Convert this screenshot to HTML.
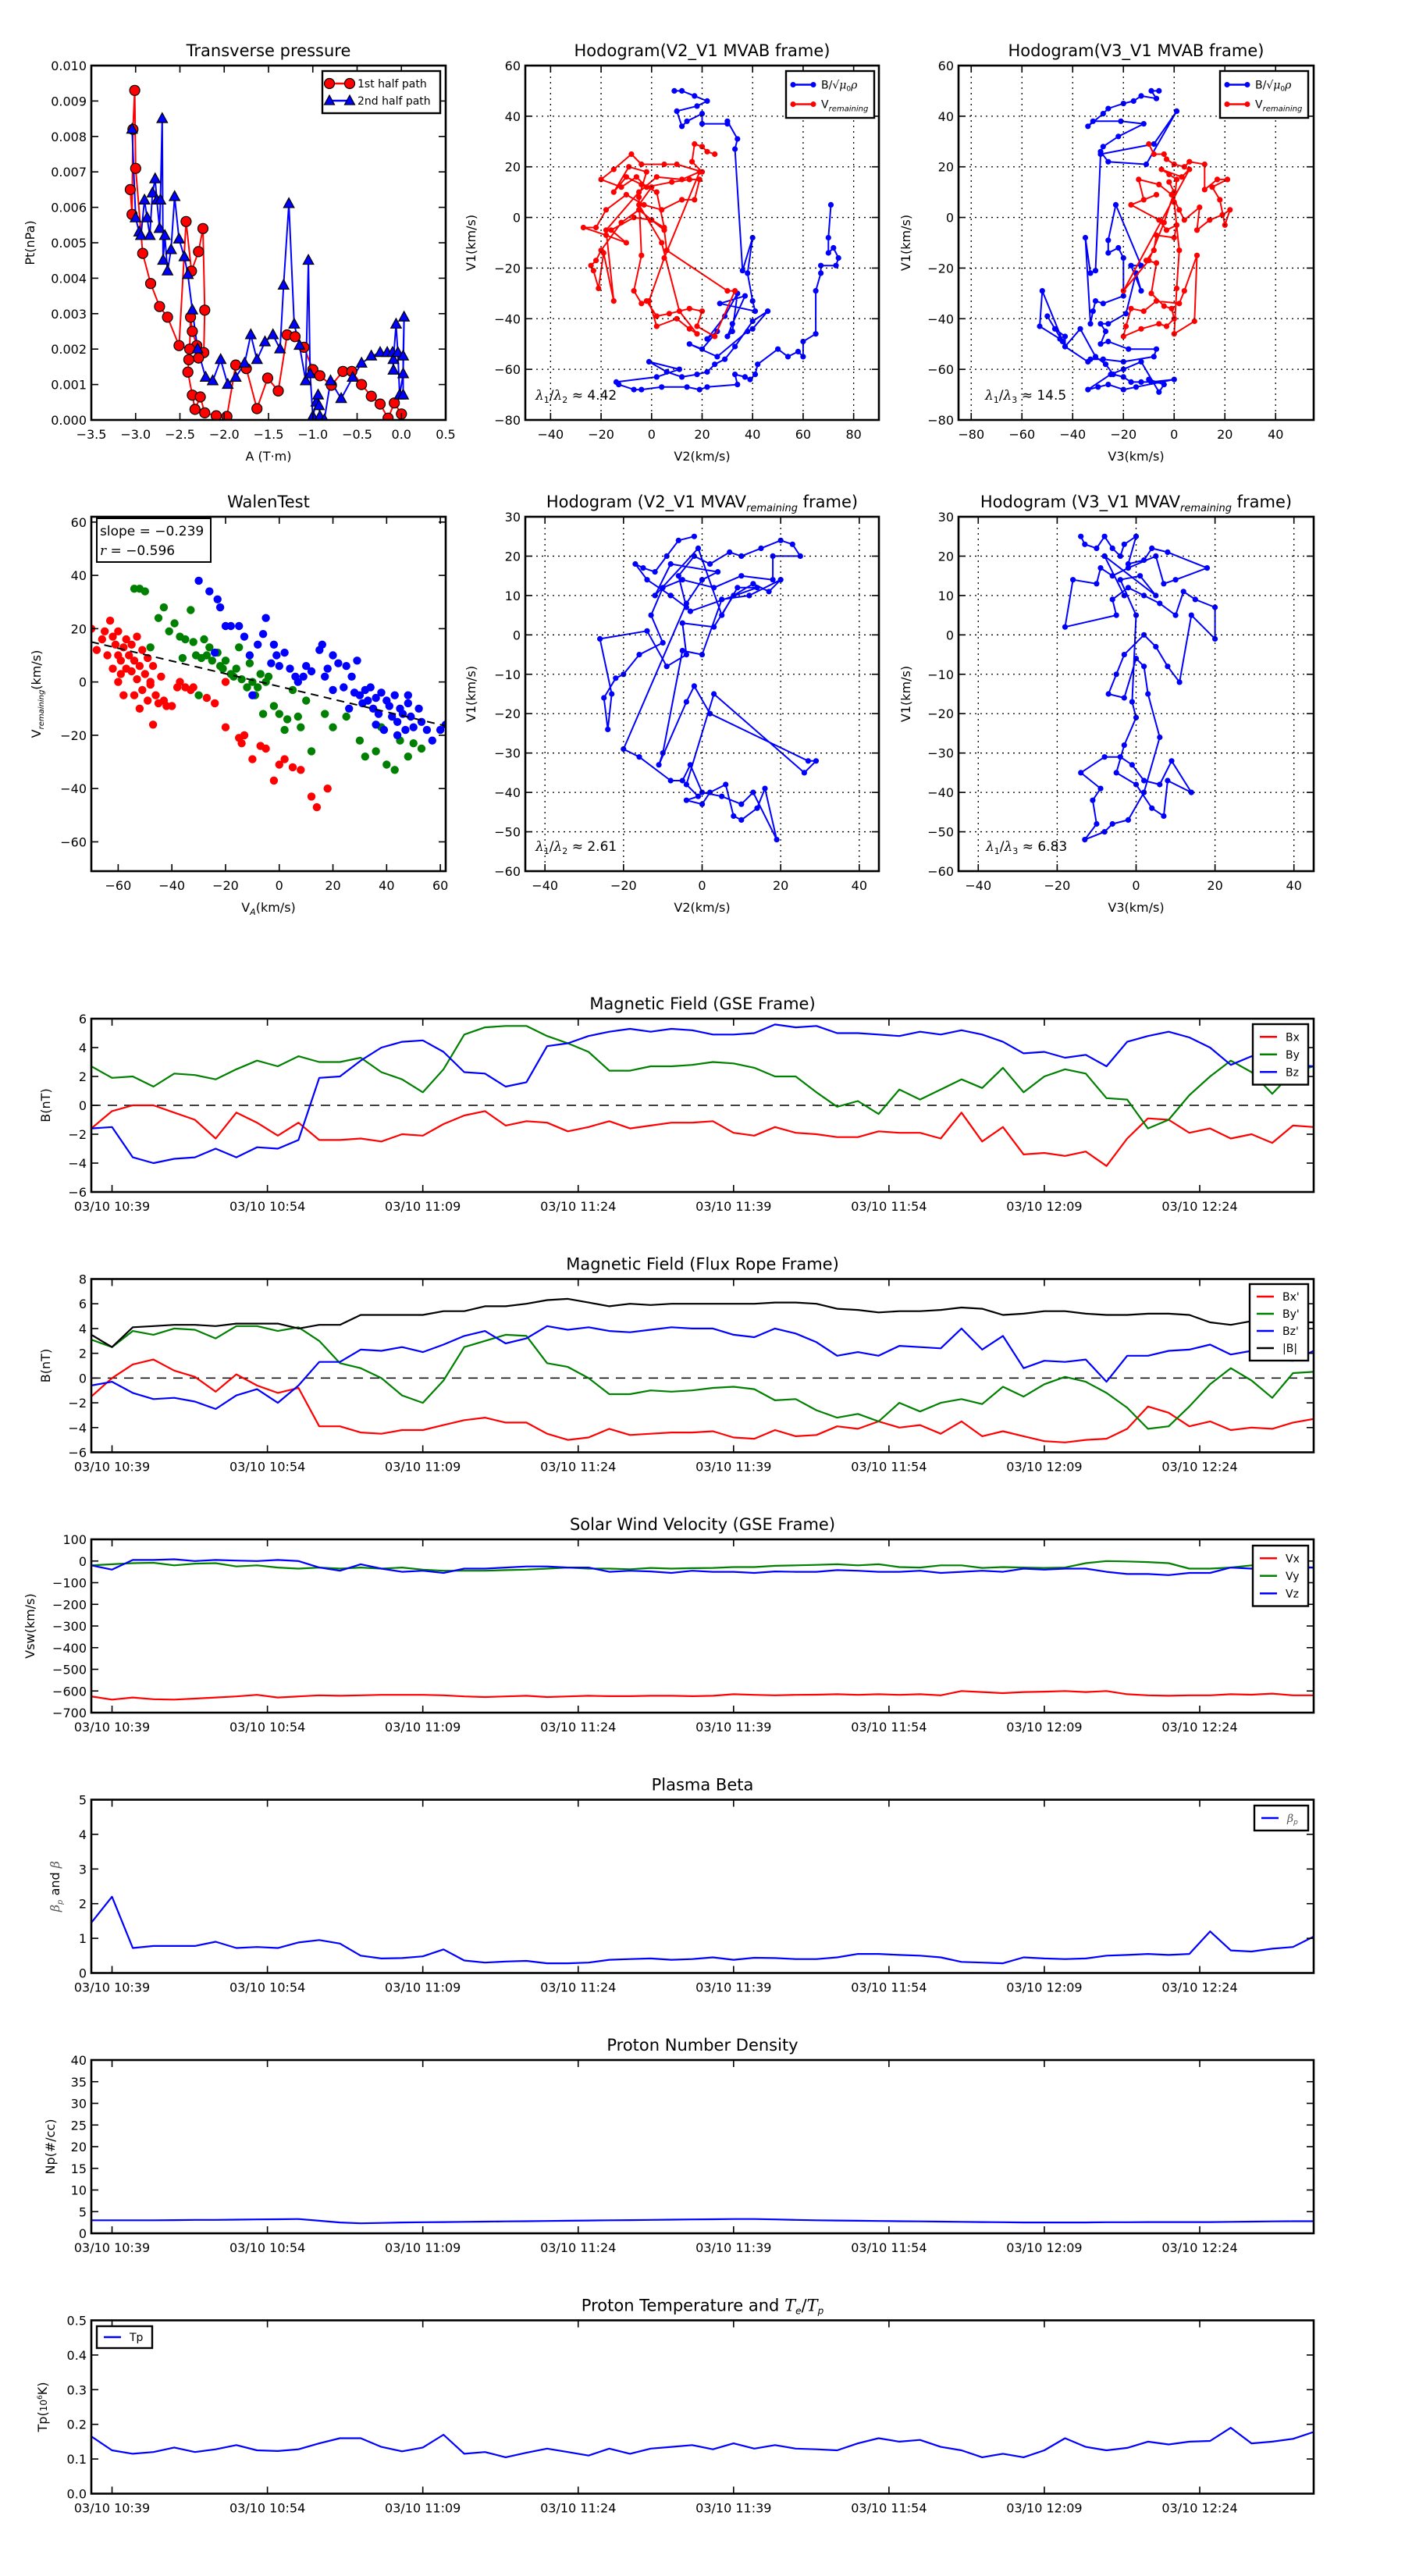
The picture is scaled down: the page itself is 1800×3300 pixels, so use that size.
<!DOCTYPE html>
<html><head><meta charset="utf-8"><title>Flux rope analysis</title>
<style>
html,body{margin:0;padding:0;background:#fff;}
svg{display:block;font-family:"DejaVu Sans","Liberation Sans",sans-serif;}
</style></head>
<body>
<svg id="fig" xmlns="http://www.w3.org/2000/svg" width="1800" height="3300" viewBox="0 0 1800 3300"></svg>
<script>
// ---------------- DATA ----------------
const minutes = [0,2,4,6,8,10,12,14,16,18,20,22,24,26,28,30,32,34,36,38,40,42,44,46,48,50,52,54,56,58,60,62,64,66,68,70,72,74,76,78,80,82,84,86,88,90,92,94,96,98,100,102,104,106,108,110,112,114,116,118];
const timeTickMinutes = [2,17,32,47,62,77,92,107];
const timeTickLabels = ["03/10 10:39","03/10 10:54","03/10 11:09","03/10 11:24","03/10 11:39","03/10 11:54","03/10 12:09","03/10 12:24"];

const bxGSE = [-1.6,-0.4,0.0,0.0,-0.5,-1.0,-2.3,-0.5,-1.2,-2.1,-1.2,-2.4,-2.4,-2.3,-2.5,-2.0,-2.1,-1.3,-0.7,-0.4,-1.4,-1.1,-1.2,-1.8,-1.5,-1.1,-1.6,-1.4,-1.2,-1.2,-1.1,-1.9,-2.1,-1.5,-1.9,-2.0,-2.2,-2.2,-1.8,-1.9,-1.9,-2.3,-0.5,-2.5,-1.5,-3.4,-3.3,-3.5,-3.2,-4.2,-2.3,-0.9,-1.0,-1.9,-1.6,-2.3,-2.0,-2.6,-1.4,-1.5];
const byGSE = [2.7,1.9,2.0,1.3,2.2,2.1,1.8,2.5,3.1,2.7,3.4,3.0,3.0,3.3,2.3,1.8,0.9,2.5,4.9,5.4,5.5,5.5,4.8,4.3,3.7,2.4,2.4,2.7,2.7,2.8,3.0,2.9,2.6,2.0,2.0,0.9,-0.1,0.3,-0.6,1.1,0.4,1.1,1.8,1.2,2.6,0.9,2.0,2.5,2.2,0.5,0.4,-1.6,-1.0,0.7,2.0,3.1,2.3,0.8,2.3,2.7];
const bzGSE = [-1.6,-1.5,-3.6,-4.0,-3.7,-3.6,-3.0,-3.6,-2.9,-3.0,-2.4,1.9,2.0,3.1,4.0,4.4,4.5,3.7,2.3,2.2,1.3,1.6,4.1,4.3,4.8,5.1,5.3,5.1,5.3,5.2,4.9,4.9,5.0,5.6,5.4,5.5,5.0,5.0,4.9,4.8,5.1,4.9,5.2,4.9,4.4,3.6,3.7,3.3,3.5,2.7,4.4,4.8,5.1,4.7,4.0,2.8,3.4,3.0,2.8,2.7];

const bxFR = [-1.5,0.0,1.1,1.5,0.6,0.1,-1.1,0.3,-0.6,-1.2,-0.8,-3.9,-3.9,-4.4,-4.5,-4.2,-4.2,-3.8,-3.4,-3.2,-3.6,-3.6,-4.5,-5.0,-4.8,-4.1,-4.6,-4.5,-4.4,-4.4,-4.3,-4.8,-4.9,-4.2,-4.7,-4.6,-3.9,-4.1,-3.5,-4.0,-3.8,-4.5,-3.5,-4.7,-4.3,-4.7,-5.1,-5.2,-5.0,-4.9,-4.1,-2.3,-2.8,-3.9,-3.5,-4.2,-4.0,-4.1,-3.6,-3.3];
const byFR = [3.1,2.5,3.8,3.5,4.0,3.9,3.2,4.2,4.2,3.8,4.1,3.0,1.2,0.8,0.0,-1.4,-2.0,-0.2,2.5,3.0,3.5,3.4,1.2,0.9,0.0,-1.3,-1.3,-1.0,-1.1,-1.0,-0.8,-0.7,-0.9,-1.8,-1.7,-2.6,-3.2,-2.9,-3.5,-2.0,-2.7,-2.0,-1.7,-2.1,-0.7,-1.5,-0.5,0.1,-0.3,-1.2,-2.4,-4.1,-3.9,-2.3,-0.5,0.8,-0.2,-1.6,0.4,0.5];
const bzFR = [-0.6,-0.3,-1.2,-1.7,-1.6,-1.9,-2.5,-1.4,-0.9,-2.0,-0.6,1.3,1.3,2.3,2.2,2.5,2.1,2.7,3.4,3.8,2.8,3.2,4.2,3.9,4.1,3.8,3.7,3.9,4.1,4.0,4.0,3.5,3.3,4.0,3.6,2.9,1.8,2.1,1.8,2.6,2.5,2.4,4.0,2.3,3.4,0.8,1.4,1.3,1.5,-0.3,1.8,1.8,2.2,2.3,2.7,1.9,2.2,1.5,1.4,2.2];
const btFR = [3.5,2.5,4.1,4.2,4.3,4.3,4.2,4.4,4.4,4.4,4.0,4.3,4.3,5.1,5.1,5.1,5.1,5.4,5.4,5.8,5.8,6.0,6.3,6.4,6.1,5.8,6.0,5.9,6.0,6.0,6.0,6.0,6.0,6.1,6.1,6.0,5.6,5.5,5.3,5.4,5.4,5.5,5.7,5.6,5.1,5.2,5.4,5.4,5.2,5.1,5.1,5.2,5.2,5.1,4.5,4.3,4.6,4.5,4.5,4.5];

const vxGSE = [-625,-640,-630,-638,-640,-635,-630,-625,-618,-630,-625,-620,-622,-620,-618,-618,-618,-620,-625,-628,-625,-622,-628,-625,-622,-624,-624,-622,-622,-624,-622,-615,-618,-620,-618,-617,-615,-618,-615,-618,-615,-620,-600,-605,-610,-605,-603,-600,-605,-600,-615,-620,-622,-620,-620,-615,-617,-612,-620,-620];
const vyGSE = [-20,-15,-10,-8,-20,-12,-10,-25,-20,-30,-35,-30,-35,-30,-35,-30,-40,-45,-45,-45,-42,-40,-35,-30,-35,-35,-38,-32,-35,-33,-32,-28,-28,-22,-20,-18,-15,-20,-15,-28,-30,-20,-20,-32,-28,-30,-32,-30,-10,0,-2,-5,-10,-35,-35,-30,-20,-25,-25,-30];
const vzGSE = [-20,-40,5,5,8,0,5,2,0,5,0,-30,-45,-15,-35,-50,-45,-55,-35,-35,-30,-25,-25,-30,-30,-50,-45,-48,-55,-45,-50,-50,-55,-48,-50,-50,-42,-45,-50,-50,-45,-55,-50,-45,-50,-35,-40,-35,-35,-50,-60,-60,-65,-55,-55,-30,-35,-30,-30,-30];

const betaP = [1.45,2.2,0.72,0.78,0.78,0.78,0.9,0.72,0.75,0.72,0.88,0.95,0.85,0.5,0.42,0.43,0.48,0.68,0.36,0.3,0.33,0.35,0.28,0.28,0.3,0.38,0.4,0.42,0.38,0.4,0.45,0.38,0.44,0.43,0.4,0.4,0.45,0.55,0.55,0.52,0.5,0.45,0.32,0.3,0.28,0.45,0.42,0.4,0.42,0.5,0.52,0.55,0.52,0.55,1.2,0.65,0.62,0.7,0.75,1.05];
const densityNp = [3.0,3.0,3.0,3.0,3.05,3.1,3.1,3.15,3.2,3.25,3.3,2.9,2.5,2.3,2.4,2.5,2.55,2.6,2.65,2.7,2.75,2.8,2.85,2.9,2.95,3.0,3.05,3.1,3.15,3.2,3.25,3.3,3.3,3.2,3.1,3.0,2.95,2.9,2.85,2.8,2.75,2.7,2.65,2.6,2.55,2.5,2.5,2.5,2.5,2.55,2.55,2.6,2.6,2.6,2.6,2.65,2.7,2.75,2.8,2.8];
const tempTp = [0.165,0.125,0.115,0.12,0.133,0.12,0.128,0.14,0.125,0.123,0.128,0.145,0.16,0.16,0.135,0.122,0.133,0.17,0.115,0.12,0.105,0.118,0.13,0.12,0.11,0.13,0.115,0.13,0.135,0.14,0.128,0.145,0.13,0.14,0.13,0.128,0.125,0.145,0.16,0.15,0.155,0.135,0.125,0.105,0.115,0.105,0.125,0.16,0.135,0.125,0.132,0.15,0.142,0.15,0.152,0.19,0.145,0.15,0.158,0.178];

// Transverse pressure
const ptRedA = [-3.06,-3.04,-3.03,-3.01,-3.0,-2.92,-2.83,-2.73,-2.64,-2.51,-2.43,-2.37,-2.29,-2.24,-2.22,-2.23,-2.29,-2.31,-2.36,-2.38,-2.39,-2.4,-2.41,-2.36,-2.33,-2.27,-2.22,-2.09,-1.97,-1.87,-1.75,-1.63,-1.51,-1.39,-1.29,-1.2,-1.1,-1.0,-0.92,-0.79,-0.66,-0.56,-0.45,-0.34,-0.24,-0.15,-0.08,0.0];
const ptRedP = [0.0065,0.0058,0.0082,0.0093,0.0071,0.0047,0.00385,0.0032,0.0029,0.0021,0.0056,0.0042,0.00475,0.0054,0.0031,0.0019,0.00175,0.0021,0.0025,0.0029,0.0020,0.0017,0.00135,0.0007,0.0003,0.00065,0.0002,0.00012,0.0001,0.00155,0.00145,0.00032,0.00118,0.00082,0.0024,0.00235,0.00205,0.00142,0.00125,0.00098,0.00137,0.00137,0.001,0.00067,0.00045,0.00005,0.00048,0.00017];
const ptBlueA = [-3.04,-3.0,-2.96,-2.94,-2.9,-2.87,-2.84,-2.81,-2.78,-2.76,-2.73,-2.72,-2.7,-2.69,-2.67,-2.64,-2.6,-2.56,-2.51,-2.45,-2.41,-2.36,-2.3,-2.21,-2.13,-2.04,-1.96,-1.87,-1.77,-1.7,-1.63,-1.54,-1.45,-1.37,-1.33,-1.27,-1.21,-1.15,-1.08,-1.05,-1.03,-1.0,-0.96,-0.94,-0.93,-0.92,-0.87,-0.8,-0.68,-0.55,-0.45,-0.34,-0.24,-0.16,-0.1,-0.09,-0.09,-0.06,-0.04,-0.02,0.02,0.03,0.02,0.02];
const ptBlueP = [0.0082,0.0057,0.0053,0.0052,0.0062,0.0057,0.0052,0.0064,0.0068,0.0062,0.0054,0.0062,0.0085,0.0045,0.0052,0.0042,0.0048,0.0063,0.0051,0.0046,0.0041,0.0031,0.002,0.0012,0.0011,0.0017,0.0010,0.0012,0.0016,0.0024,0.0017,0.0022,0.0024,0.002,0.0038,0.0061,0.0027,0.0021,0.0011,0.0045,0.0013,0.0001,0.0005,0.0007,0.0004,0.0001,0.0000,0.0011,0.0006,0.0012,0.0016,0.0018,0.0019,0.0019,0.0019,0.0014,0.0017,0.0027,0.0019,0.0007,0.0013,0.0029,0.0018,0.0007];

// Hodogram V2-V1 MVAB
const h1BlueV2 = [9,12,17,22,18,10,12,14,20,20,30,30,34,33,36,40,38,40,41,27,37,32,30,32,34,29,22,26,20,15,26,38,40,46,40,33,29,25,22,18,12,6,-1,11,2,-14,-13,-7,-4,4,14,19,22,34,33,37,39,41,42,50,54,58,60,60,65,65,67,67,73,74,72,70,70,71];
const h1BlueV1 = [50,50,48,46,44,42,36,38,41,37,37,38,31,27,-21,-8,-22,-33,-37,-34,-31,-42,-47,-45,-30,-39,-48,-45,-52,-50,-55,-45,-44,-37,-41,-51,-56,-58,-61,-62,-63,-61,-57,-60,-63,-65,-66,-68,-68,-67,-67,-68,-67,-66,-62,-63,-64,-62,-58,-52,-55,-53,-55,-49,-46,-29,-22,-19,-19,-16,-12,-14,-8,5];
const h1RedV2 = [25,22,20,17,16,20,10,5,-4,-8,-15,-20,-12,-6,-2,8,15,19,17,12,4,-3,-10,-18,-22,-27,-18,-10,-16,-7,0,5,2,-4,-10,-15,-9,-2,-5,-4,-7,-4,-2,2,7,15,20,18,25,33,30,6,5,-5,-12,-20,-22,-24,-23,-21,-19,-15,-18,-5,2,12,19,5,-1,2,10,15,18,11,4,-5,0];
const h1RedV1 = [25,26,28,29,22,18,21,21,21,25,19,15,12,16,12,14,15,15,7,7,3,5,9,3,-4,-4,-7,-10,-5,0,-1,-4,10,13,16,10,20,18,8,-15,-29,-34,-33,-39,-38,-36,-37,-43,-47,-29,-29,-13,-5,3,-2,-13,-17,-19,-21,-28,-14,-33,-5,10,16,15,18,-16,-33,-43,-40,-44,-46,-37,-10,5,12];

// Hodogram V3-V1 MVAB
const h3BlueV3 = [-6,-9,-7,-13,-16,-20,-26,-28,-34,-32,-21,-12,-22,-28,-29,-26,-11,1,-8,-29,-31,-33,-35,-33,-32,-31,-28,-20,-20,-22,-26,-26,-23,-13,-17,-13,-15,-19,-26,-29,-27,-29,-26,-18,-7,-8,-20,-28,-33,-34,-43,-43,-47,-50,-44,-45,-53,-52,-43,-37,-31,-27,-24,-20,-17,-13,-9,0,-15,-20,-26,-30,-34,-25,-20,-13,-6,-4,-10];
const h3BlueV1 = [50,50,47,48,46,45,43,41,36,38,38,37,32,28,26,22,21,42,29,25,-21,-22,-8,-42,-37,-33,-34,-31,-16,-12,-14,-9,5,-19,-19,-29,-22,-38,-42,-42,-45,-50,-49,-52,-52,-55,-57,-56,-56,-57,-51,-47,-44,-39,-49,-48,-43,-29,-51,-44,-55,-58,-62,-63,-65,-65,-65,-64,-67,-68,-66,-67,-68,-62,-60,-57,-69,-66,-64];
const h3RedV3 = [-10,-8,-4,-3,0,4,6,12,12,17,21,15,18,20,22,19,14,9,10,4,2,-1,-6,-14,-12,-7,-17,-6,-3,1,0,-7,-8,-11,-7,-9,-4,-1,0,-3,-6,-13,-20,-19,-17,-12,-7,2,4,9,8,0,1,2,0,1,-2,-5,3,6,-20,-10,-4,0,-2];
const h3RedV1 = [29,25,25,23,21,20,22,21,11,15,15,12,7,-3,3,1,-1,-5,4,-1,3,9,13,15,7,9,5,-1,-5,-3,-8,-7,-13,-17,-18,-30,-35,-36,-40,-43,-42,-44,-47,-43,-36,-37,-33,-34,-29,-15,-41,-46,-28,-13,6,15,17,19,16,19,-29,-17,-2,10,14];

// Walen test
const walenRedX = [-70,-68,-66,-65,-63,-62,-61,-60,-60,-59,-58,-57,-57,-56,-55,-55,-54,-53,-53,-52,-51,-51,-50,-49,-49,-48,-47,-47,-46,-45,-44,-43,-42,-40,-38,-37,-35,-33,-32,-24,-20,-15,-14,-13,-10,-7,-5,-2,0,2,5,8,12,14,18,-62,-64,-59,-54,-52,-58,-48,-20,-27,-60];
const walenRedY = [20,12,16,19,23,17,14,10,19,8,13,5,16,10,4,14,8,1,17,6,-3,12,3,-7,9,0,-16,6,-5,-8,2,-7,-9,-9,-2,0,-2,-3,-2,-8,-17,-21,-23,-20,-29,-24,-25,-37,-31,-29,-32,-33,-43,-47,-40,5,10,3,-5,-10,-5,-1,0,-6,0];
const walenGreenX = [-54,-52,-50,-45,-43,-41,-39,-37,-35,-33,-32,-31,-29,-27,-26,-25,-23,-22,-21,-20,-18,-17,-16,-14,-12,-11,-10,-9,-8,-7,-5,-4,-2,0,2,3,5,7,8,10,12,17,20,25,30,32,36,38,40,43,45,48,50,53,-48,-36,-28,-15,-30,-6];
const walenGreenY = [35,35,34,24,28,19,22,17,16,27,15,10,9,10,13,8,11,6,5,8,3,2,5,1,-2,7,0,-5,-2,3,0,2,-9,-12,-18,-14,-3,-13,-17,-7,-26,-12,-17,-13,-22,-28,-26,-17,-31,-33,-22,-28,-23,-25,13,9,16,13,-5,-12];
const walenBlueX = [-30,-26,-23,-22,-20,-18,-15,-13,-11,-8,-6,-5,-3,-2,-1,0,2,4,6,7,9,10,12,15,16,17,18,20,22,24,25,27,28,29,30,31,32,33,34,35,36,37,38,40,41,42,43,44,45,46,47,48,49,50,52,55,57,60,62,-24,-10,20,36,44,48,53,39,26];
const walenBlueY = [38,34,31,28,21,21,21,17,10,14,18,24,7,14,10,6,11,5,2,0,2,6,4,12,14,2,5,10,7,-2,6,2,-4,8,-5,-8,-3,-7,-2,-10,-6,-12,-4,-7,-9,-13,-5,-15,-10,-12,-18,-8,-13,-17,-10,-18,-22,-18,-16,11,-5,-3,-16,-20,-5,-15,-18,-10];
const walenFit = [-0.239, -1.7]; // slope, intercept
const walenRange = [-70, 62];

// Hodogram V2-V1 MVAV
const h4V2 = [-2,-6,-9,-12,-15,-17,-14,-8,-4,-6,-2,2,7,10,15,20,23,25,18,18,10,3,-5,-10,-13,-10,-16,-20,-22,-25,-24,-23,-26,-14,-9,-4,-5,3,8,13,17,20,12,5,0,-5,-10,-11,-4,-2,2,27,29,26,3,-4,-1,-4,0,2,6,8,10,14,16,19,13,10,5,0,-3,-5,-8,-16,-20,-4,0,4,-8,-12,-1,5,9,14,-3];
const h4V1 = [25,24,20,16,17,18,14,10,7,15,20,18,21,20,22,24,23,20,20,14,15,12,14,12,5,-2,-5,-10,-11,-16,-24,-15,-1,1,-8,-5,3,2,10,13,11,14,10,9,-5,-4,-30,-33,-17,-13,-20,-32,-32,-35,-15,-38,-41,-42,-43,-40,-38,-46,-47,-44,-39,-52,-40,-43,-41,-40,-33,-37,-37,-31,-29,8,14,16,18,10,22,5,12,12,6];
// Hodogram V3-V1 MVAV
const h5V3 = [-14,-13,-10,-8,-6,-4,-3,0,-2,2,4,8,18,10,7,5,-2,-6,-9,-10,-16,-18,-5,-6,-2,2,6,10,12,15,20,20,14,11,8,5,2,-3,-5,-7,-3,0,2,3,6,2,-2,-6,-8,-13,-10,-11,-9,-14,-8,-4,-1,2,6,9,14,8,7,4,0,-5,-3,0,-1,0,-4,1,5,-8,-3];
const h5V1 = [25,23,22,25,22,20,23,25,18,19,22,21,17,14,13,20,17,15,17,13,14,2,5,9,12,10,8,5,11,9,7,-1,5,-12,-8,-3,0,-5,-10,-15,-16,-6,-8,-15,-26,-40,-47,-48,-50,-52,-48,-42,-39,-35,-31,-31,-33,-37,-38,-32,-40,-37,-46,-44,-38,-35,-28,-21,-17,5,14,15,10,20,10];

// ---------------- DRAWING ----------------
const NS = 'http://www.w3.org/2000/svg';
const svg = document.getElementById('fig');
const RED = '#ff0000', GREEN = '#008000', BLUE = '#0000ff';
let clipId = 0;
function mk(tag, parent, attrs) {
  const e = document.createElementNS(NS, tag);
  for (const k in attrs) e.setAttribute(k, attrs[k]);
  parent.appendChild(e);
  return e;
}
function fmtNeg(s) { return String(s).replace('-', '\u2212'); }

function makeAxes(name, x0, y0, w, h, xd, yd) {
  const g = mk('g', svg, {});
  
  
  const id = 'clip' + (clipId++);
  const cp = mk('clipPath', g, {id: id});
  mk('rect', cp, {x: x0, y: y0, width: w, height: h});
  const data = mk('g', g, {'clip-path': 'url(#' + id + ')'});
  
  
  const sx = v => x0 + (v - xd[0]) / (xd[1] - xd[0]) * w;
  const sy = v => y0 + h - (v - yd[0]) / (yd[1] - yd[0]) * h;
  return {g, data, sx, sy, x0, y0, w, h, name};
}
function frame(a) {
  const r = mk('rect', a.g, {x: a.x0, y: a.y0, width: a.w, height: a.h, fill: 'none', stroke: '#000', 'stroke-width': 2.6});
  
  
}
function xTicks(a, vals, labels, grid, fs) {
  vals.forEach((v, i) => {
    const x = a.sx(v);
    if (grid) {
      const gl = mk('line', a.g, {x1: x, x2: x, y1: a.y0, y2: a.y0 + a.h, stroke: '#000', 'stroke-width': 1.3, 'stroke-dasharray': '2,5'});
      
      
    }
    const t1 = mk('line', a.g, {x1: x, x2: x, y1: a.y0 + a.h, y2: a.y0 + a.h - 9, stroke: '#000', 'stroke-width': 1.6});
    
    
    const t2 = mk('line', a.g, {x1: x, x2: x, y1: a.y0, y2: a.y0 + 9, stroke: '#000', 'stroke-width': 1.6});
    
    
    const tx = mk('text', a.g, {x: x, y: a.y0 + a.h + 24, 'text-anchor': 'middle', 'font-size': fs || 16});
    tx.textContent = labels[i];
    
    
  });
}
function yTicks(a, vals, labels, grid, fs) {
  vals.forEach((v, i) => {
    const y = a.sy(v);
    if (grid) {
      const gl = mk('line', a.g, {x1: a.x0, x2: a.x0 + a.w, y1: y, y2: y, stroke: '#000', 'stroke-width': 1.3, 'stroke-dasharray': '2,5'});
      
      
    }
    const t1 = mk('line', a.g, {x1: a.x0, x2: a.x0 + 9, y1: y, y2: y, stroke: '#000', 'stroke-width': 1.6});
    
    
    const t2 = mk('line', a.g, {x1: a.x0 + a.w, x2: a.x0 + a.w - 9, y1: y, y2: y, stroke: '#000', 'stroke-width': 1.6});
    
    
    const tx = mk('text', a.g, {x: a.x0 - 6, y: y + 6, 'text-anchor': 'end', 'font-size': fs || 16});
    tx.textContent = labels[i];
    
    
  });
}
function title(a, html, dy) {
  const t = mk('text', a.g, {x: a.x0 + a.w / 2, y: a.y0 - (dy || 10), 'text-anchor': 'middle', 'font-size': 21});
  t.innerHTML = html;
  
  
}
function yLabel(a, html, x, fs) {
  const cy = a.y0 + a.h / 2;
  const t = mk('text', a.g, {x: x, y: cy, 'text-anchor': 'middle', 'font-size': fs || 16, transform: 'rotate(-90 ' + x + ' ' + cy + ')'});
  t.innerHTML = html;
  
  
}
function xLabel(a, html, y) {
  const t = mk('text', a.g, {x: a.x0 + a.w / 2, y: y, 'text-anchor': 'middle', 'font-size': 16});
  t.innerHTML = html;
  
  
}
function line(a, xs, ys, color, name, width) {
  const pts = xs.map((x, i) => a.sx(x).toFixed(1) + ',' + a.sy(ys[i]).toFixed(1)).join(' ');
  const p = mk('polyline', a.data, {points: pts, fill: 'none', stroke: color, 'stroke-width': width || 2.2, 'stroke-linejoin': 'round'});
  
  
  return p;
}
function dots(a, xs, ys, color, name, r, stroke) {
  const g = mk('g', a.data, {});
  
  
  xs.forEach((x, i) => {
    const c = mk('circle', g, {cx: a.sx(x).toFixed(1), cy: a.sy(ys[i]).toFixed(1), r: r, fill: color, stroke: stroke || 'none', 'stroke-width': 1.2});
    
    
  });
}
function tris(a, xs, ys, color, name, s) {
  const g = mk('g', a.data, {});
  
  
  xs.forEach((x, i) => {
    const cx = a.sx(x), cy = a.sy(ys[i]);
    const p = mk('polygon', g, {points: (cx) + ',' + (cy - s) + ' ' + (cx - s * 0.9) + ',' + (cy + s * 0.65) + ' ' + (cx + s * 0.9) + ',' + (cy + s * 0.65), fill: color, stroke: '#000', 'stroke-width': 1.2});
    
    
  });
}
function hline(a, v, xd, name) {
  const y = a.sy(v);
  const l = mk('line', a.data, {x1: a.x0, x2: a.x0 + a.w, y1: y, y2: y, stroke: '#000', 'stroke-width': 1.5, 'stroke-dasharray': '12,9'});
  
  
}
function legend(a, x, y, w, entries, rowH, style) {
  const g = mk('g', a.g, {});
  
  
  const h = entries.length * rowH + 10;
  const box = mk('rect', g, {x: x, y: y, width: w, height: h, fill: '#fff', stroke: '#000', 'stroke-width': 2.4});
  
  
  entries.forEach((e, i) => {
    const cy = y + 5 + rowH * (i + 0.5);
    const l = mk('line', g, {x1: x + 9, x2: x + (style === 'marker' ? 35 : 31), y1: cy, y2: cy, stroke: e.color, 'stroke-width': 2.4});
    
    
    if (e.marker === 'dot') {
      [x + 9, x + 35].forEach(mx => {
        const c = mk('circle', g, {cx: mx, cy: cy, r: e.r || 3.5, fill: e.color, stroke: e.stroke || 'none', 'stroke-width': 1.2});
        
        
      });
    } else if (e.marker === 'tri') {
      [x + 9, x + 35].forEach(mx => {
        const p = mk('polygon', g, {points: mx + ',' + (cy - 7) + ' ' + (mx - 6.5) + ',' + (cy + 5) + ' ' + (mx + 6.5) + ',' + (cy + 5), fill: e.color, stroke: '#000', 'stroke-width': 1.2});
        
        
      });
    }
    const t = mk('text', g, {x: x + (style === 'marker' ? 45 : 42), y: cy + 5, 'font-size': 14});
    t.innerHTML = e.label;
    
    
  });
}
function note(a, x, y, html, fs) {
  const t = mk('text', a.g, {x: x, y: y, 'font-size': fs || 17});
  t.innerHTML = html;
  
  
}
function range(a, b, s) { const r = []; for (let v = a; v <= b + 1e-9; v += s) r.push(+v.toFixed(4)); return r; }

const VREM = 'V<tspan font-size="10" font-style="italic" dy="4">remaining</tspan>';
const BMU = 'B/√<tspan font-style="italic" font-family="DejaVu Serif,serif">μ</tspan><tspan font-size="9" dy="3">0</tspan><tspan dy="-3" font-style="italic" font-family="DejaVu Serif,serif">ρ</tspan>';

// --- Transverse pressure
(function(){
  const a = makeAxes('transverse-pressure-chart', 117, 84, 454, 454, [-3.5, 0.5], [0, 0.010]);
  const xv = range(-3.5, 0.5, 0.5);
  xTicks(a, xv, xv.map(v => fmtNeg(v.toFixed(1))));
  const yv = range(0, 0.010, 0.001);
  yTicks(a, yv, yv.map(v => v.toFixed(3)));
  line(a, ptRedA, ptRedP, RED, 'first-half-path-line', 2);
  line(a, ptBlueA, ptBlueP, BLUE, 'second-half-path-line', 2);
  dots(a, ptRedA, ptRedP, RED, 'first-half-path-markers', 6.5, '#000');
  tris(a, ptBlueA, ptBlueP, BLUE, 'second-half-path-markers', 7.5);
  frame(a);
  title(a, 'Transverse pressure', 12);
  yLabel(a, 'Pt(nPa)', 44);
  xLabel(a, 'A (T·m)', 590);
  legend(a, 413, 91, 151, [{color: RED, label: '1st half path', marker: 'dot', r: 6.5, stroke: '#000'}, {color: BLUE, label: '2nd half path', marker: 'tri'}], 22, 'marker');
})();

// --- Hodogram V2_V1 MVAB
(function(){
  const a = makeAxes('hodogram-v2-v1-mvab', 673, 84, 453, 454, [-50, 90], [-80, 60]);
  const xv = range(-40, 80, 20), yv = range(-80, 60, 20);
  xTicks(a, xv, xv.map(fmtNeg), true);
  yTicks(a, yv, yv.map(fmtNeg), true);
  line(a, h1BlueV2, h1BlueV1, BLUE, 'b-alfven-trace', 2);
  dots(a, h1BlueV2, h1BlueV1, BLUE, 'b-alfven-points', 3.6);
  line(a, h1RedV2, h1RedV1, RED, 'v-remaining-trace', 2);
  dots(a, h1RedV2, h1RedV1, RED, 'v-remaining-points', 3.6);
  frame(a);
  title(a, 'Hodogram(V2_V1 MVAB frame)', 12);
  yLabel(a, 'V1(km/s)', 609);
  xLabel(a, 'V2(km/s)', 590);
  legend(a, 1007, 91, 113, [{color: BLUE, label: BMU, marker: 'dot'}, {color: RED, label: VREM, marker: 'dot'}], 25, 'marker');
  note(a, 686, 512, '<tspan font-style="italic" font-family="DejaVu Serif,serif">λ</tspan><tspan font-size="11" dy="4">1</tspan><tspan dy="-4">/</tspan><tspan font-style="italic" font-family="DejaVu Serif,serif">λ</tspan><tspan font-size="11" dy="4">2</tspan><tspan dy="-4"> ≈ 4.42</tspan>');
})();

// --- Hodogram V3_V1 MVAB
(function(){
  const a = makeAxes('hodogram-v3-v1-mvab', 1228, 84, 455, 454, [-85, 55], [-80, 60]);
  const xv = range(-80, 40, 20), yv = range(-80, 60, 20);
  xTicks(a, xv, xv.map(fmtNeg), true);
  yTicks(a, yv, yv.map(fmtNeg), true);
  line(a, h3BlueV3, h3BlueV1, BLUE, 'b-alfven-trace', 2);
  dots(a, h3BlueV3, h3BlueV1, BLUE, 'b-alfven-points', 3.6);
  line(a, h3RedV3, h3RedV1, RED, 'v-remaining-trace', 2);
  dots(a, h3RedV3, h3RedV1, RED, 'v-remaining-points', 3.6);
  frame(a);
  title(a, 'Hodogram(V3_V1 MVAB frame)', 12);
  yLabel(a, 'V1(km/s)', 1166);
  xLabel(a, 'V3(km/s)', 590);
  legend(a, 1563, 91, 113, [{color: BLUE, label: BMU, marker: 'dot'}, {color: RED, label: VREM, marker: 'dot'}], 25, 'marker');
  note(a, 1262, 512, '<tspan font-style="italic" font-family="DejaVu Serif,serif">λ</tspan><tspan font-size="11" dy="4">1</tspan><tspan dy="-4">/</tspan><tspan font-style="italic" font-family="DejaVu Serif,serif">λ</tspan><tspan font-size="11" dy="4">3</tspan><tspan dy="-4"> ≈ 14.5</tspan>');
})();

// --- Walen test
(function(){
  const a = makeAxes('walen-test-chart', 117, 662, 454, 454, [-70, 62], [-71, 62]);
  const xv = range(-60, 60, 20), yv = range(-60, 60, 20);
  xTicks(a, xv, xv.map(fmtNeg));
  yTicks(a, yv, yv.map(fmtNeg));
  dots(a, walenRedX, walenRedY, RED, 'walen-red-points', 5.2);
  dots(a, walenGreenX, walenGreenY, GREEN, 'walen-green-points', 5.2);
  dots(a, walenBlueX, walenBlueY, BLUE, 'walen-blue-points', 5.2);
  const fx = walenRange, fy = walenRange.map(v => walenFit[0] * v + walenFit[1]);
  const fl = line(a, fx, fy, '#000', 'walen-fit-line', 2);
  fl.setAttribute('stroke-dasharray', '10,7');
  frame(a);
  title(a, 'WalenTest', 12);
  yLabel(a, VREM + '<tspan dy="-4">(km/s)</tspan>', 52);
  xLabel(a, 'V<tspan font-size="11" font-style="italic" dy="4">A</tspan><tspan dy="-4">(km/s)</tspan>', 1168);
  const box = mk('rect', a.g, {x: 124, y: 664, width: 146, height: 56, fill: '#fff', stroke: '#000', 'stroke-width': 2});
  
  
  note(a, 128, 686, 'slope = −0.239', 17);
  note(a, 128, 711, '<tspan font-style="italic" font-family="DejaVu Serif,serif">r</tspan> = −0.596', 17);
})();

// --- Hodogram V2_V1 MVAV
(function(){
  const a = makeAxes('hodogram-v2-v1-mvav', 673, 662, 453, 454, [-45, 45], [-60, 30]);
  const xv = range(-40, 40, 20), yv = range(-60, 30, 10);
  xTicks(a, xv, xv.map(fmtNeg), true);
  yTicks(a, yv, yv.map(fmtNeg), true);
  line(a, h4V2, h4V1, BLUE, 'v-remaining-trace', 2);
  dots(a, h4V2, h4V1, BLUE, 'v-remaining-points', 3.6);
  frame(a);
  title(a, 'Hodogram (V2_V1 MVAV<tspan font-size="13" font-style="italic" dy="5">remaining</tspan><tspan dy="-5"> frame)</tspan>', 12);
  yLabel(a, 'V1(km/s)', 609);
  xLabel(a, 'V2(km/s)', 1168);
  note(a, 686, 1090, '<tspan font-style="italic" font-family="DejaVu Serif,serif">λ</tspan><tspan font-size="11" dy="4">1</tspan><tspan dy="-4">/</tspan><tspan font-style="italic" font-family="DejaVu Serif,serif">λ</tspan><tspan font-size="11" dy="4">2</tspan><tspan dy="-4"> ≈ 2.61</tspan>');
})();

// --- Hodogram V3_V1 MVAV
(function(){
  const a = makeAxes('hodogram-v3-v1-mvav', 1228, 662, 455, 454, [-45, 45], [-60, 30]);
  const xv = range(-40, 40, 20), yv = range(-60, 30, 10);
  xTicks(a, xv, xv.map(fmtNeg), true);
  yTicks(a, yv, yv.map(fmtNeg), true);
  line(a, h5V3, h5V1, BLUE, 'v-remaining-trace', 2);
  dots(a, h5V3, h5V1, BLUE, 'v-remaining-points', 3.6);
  frame(a);
  title(a, 'Hodogram (V3_V1 MVAV<tspan font-size="13" font-style="italic" dy="5">remaining</tspan><tspan dy="-5"> frame)</tspan>', 12);
  yLabel(a, 'V1(km/s)', 1166);
  xLabel(a, 'V3(km/s)', 1168);
  note(a, 1263, 1090, '<tspan font-style="italic" font-family="DejaVu Serif,serif">λ</tspan><tspan font-size="11" dy="4">1</tspan><tspan dy="-4">/</tspan><tspan font-style="italic" font-family="DejaVu Serif,serif">λ</tspan><tspan font-size="11" dy="4">3</tspan><tspan dy="-4"> ≈ 6.83</tspan>');
})();

// --- Time series panels
function timePanel(name, top, yd, yv, ylabels, ttl, ylab, ylabX) {
  const a = makeAxes(name, 117, top, 1566, 222, [0, 118], yd);
  xTicks(a, timeTickMinutes, timeTickLabels);
  yTicks(a, yv, ylabels);
  title(a, ttl, 12);
  yLabel(a, ylab, ylabX);
  return a;
}
(function(){
  const yv = range(-6, 6, 2);
  const a = timePanel('magnetic-field-gse-chart', 1305, [-6, 6], yv, yv.map(fmtNeg), 'Magnetic Field (GSE Frame)', 'B(nT)', 64);
  hline(a, 0, null, 'zero-line');
  line(a, minutes, bxGSE, RED, 'bx-line');
  line(a, minutes, byGSE, GREEN, 'by-line');
  line(a, minutes, bzGSE, BLUE, 'bz-line');
  frame(a);
  legend(a, 1605, 1312, 71, [{color: RED, label: 'Bx'}, {color: GREEN, label: 'By'}, {color: BLUE, label: 'Bz'}], 22.5);
})();
(function(){
  const yv = range(-6, 8, 2);
  const a = timePanel('magnetic-field-flux-rope-chart', 1638.5, [-6, 8], yv, yv.map(fmtNeg), 'Magnetic Field (Flux Rope Frame)', 'B(nT)', 64);
  hline(a, 0, null, 'zero-line');
  line(a, minutes, bxFR, RED, 'bx-prime-line');
  line(a, minutes, byFR, GREEN, 'by-prime-line');
  line(a, minutes, bzFR, BLUE, 'bz-prime-line');
  line(a, minutes, btFR, '#000', 'b-magnitude-line');
  frame(a);
  legend(a, 1601, 1645, 75, [{color: RED, label: "Bx'"}, {color: GREEN, label: "By'"}, {color: BLUE, label: "Bz'"}, {color: '#000', label: '|B|'}], 22);
})();
(function(){
  const yv = range(-700, 100, 100);
  const a = timePanel('solar-wind-velocity-chart', 1972, [-700, 100], yv, yv.map(fmtNeg), 'Solar Wind Velocity (GSE Frame)', 'Vsw(km/s)', 44);
  line(a, minutes, vxGSE, RED, 'vx-line');
  line(a, minutes, vyGSE, GREEN, 'vy-line');
  line(a, minutes, vzGSE, BLUE, 'vz-line');
  frame(a);
  legend(a, 1605, 1980, 71, [{color: RED, label: 'Vx'}, {color: GREEN, label: 'Vy'}, {color: BLUE, label: 'Vz'}], 22.5);
})();
(function(){
  const yv = range(0, 5, 1);
  const a = timePanel('plasma-beta-chart', 2305.5, [0, 5], yv, yv.map(String), 'Plasma Beta', '<tspan fill="#555" font-style="italic" font-family="DejaVu Serif,serif">β</tspan><tspan fill="#555" font-size="10" font-style="italic" dy="4">p</tspan><tspan dy="-4"> and </tspan><tspan fill="#555" font-style="italic" font-family="DejaVu Serif,serif">β</tspan>', 76);
  line(a, minutes, betaP, BLUE, 'beta-p-line');
  frame(a);
  legend(a, 1607, 2313, 69, [{color: BLUE, label: '<tspan fill="#555" font-style="italic" font-family="DejaVu Serif,serif">β</tspan><tspan fill="#555" font-size="9" font-style="italic" dy="3">p</tspan>'}], 22);
})();
(function(){
  const yv = range(0, 40, 5);
  const a = timePanel('proton-density-chart', 2639, [0, 40], yv, yv.map(String), 'Proton Number Density', 'Np(#/cc)', 70);
  line(a, minutes, densityNp, BLUE, 'np-line');
  frame(a);
})();
(function(){
  const yv = range(0, 0.5, 0.1);
  const a = timePanel('proton-temperature-chart', 2972.5, [0, 0.5], yv, yv.map(v => v.toFixed(1)), 'Proton Temperature and <tspan font-style="italic" font-family="DejaVu Serif,serif">T</tspan><tspan font-size="12" font-style="italic" dy="4">e</tspan><tspan dy="-4">/</tspan><tspan font-style="italic" font-family="DejaVu Serif,serif">T</tspan><tspan font-size="12" font-style="italic" dy="4">p</tspan>', 'Tp(<tspan font-size="12">10</tspan><tspan font-size="9" dy="-6">6</tspan><tspan dy="6">K)</tspan>', 60);
  line(a, minutes, tempTp, BLUE, 'tp-line');
  frame(a);
  legend(a, 124, 2980, 71, [{color: BLUE, label: 'Tp'}], 18);
})();
</script>
</body></html>
